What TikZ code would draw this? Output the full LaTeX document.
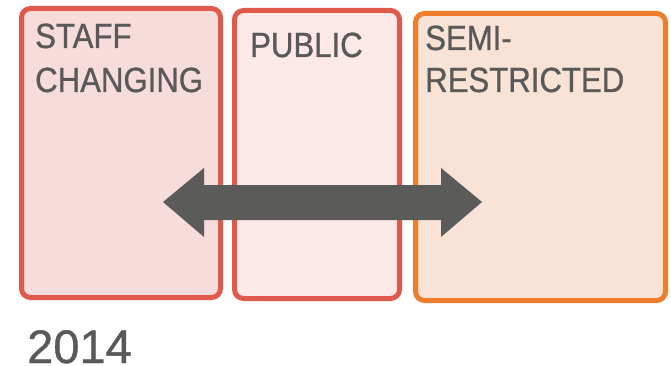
\documentclass[tikz,border=0pt]{standalone}
\usepackage{fontspec}
\setmainfont{Liberation Sans}
\newfontfamily\narrowsans[FakeStretch=0.89,FakeBold=0.8]{Liberation Sans}
\newfontfamily\yearsans[FakeBold=0.8]{Liberation Sans}
\definecolor{redline}{HTML}{E05A4B}
\definecolor{orangeline}{HTML}{EE7D2C}
\definecolor{fillA}{HTML}{F6DCDA}
\definecolor{fillB}{HTML}{FDE9E7}
\definecolor{fillC}{HTML}{F8E3D6}
\definecolor{txtgray}{HTML}{595959}
\definecolor{arrowgray}{HTML}{5B5B5A}
\tikzset{
  zonebox/.style={line width=5pt, rounded corners=9pt},
  zonelabel/.style={anchor=base west, inner sep=0pt, text=txtgray, font=\narrowsans\fontsize{35}{42}\selectfont},
}
\begin{document}
\begin{tikzpicture}[x=1pt,y=-1pt]
\useasboundingbox (0,0) rectangle (671,366);
\draw[zonebox, draw=redline, fill=fillA] (21.5,8.5) rectangle (220.5,297.5);
\draw[zonebox, draw=redline, fill=fillB] (234.5,10.5) rectangle (399.5,298.5);
\draw[zonebox, draw=orangeline, fill=fillC] (415.5,13.5) rectangle (665.5,300.5);
\node[zonelabel] (staff) at (35,48) {STAFF};
\node[zonelabel] (changing) at (35,92) {CHANGING};
\node[zonelabel] (public) at (250,57) {PUBLIC};
\node[zonelabel] (semi) at (425,50) {SEMI-};
\node[zonelabel] (restricted) at (425,92) {RESTRICTED};
\fill[arrowgray] (163,202) -- (204,168) -- (204,185) -- (441,185) -- (441,168) -- (482,202)
  -- (441,237) -- (441,220) -- (204,220) -- (204,237) -- cycle;
\node[anchor=base west, inner sep=0pt, text=txtgray, font=\yearsans\fontsize{47}{56}\selectfont] (year) at (27,363) {2014};
\end{tikzpicture}
\end{document}
